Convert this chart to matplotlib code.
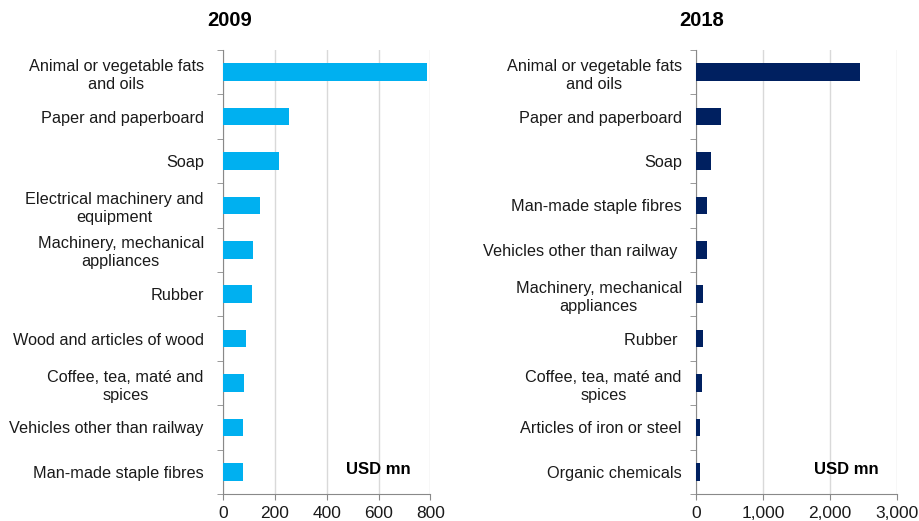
import matplotlib.pyplot as plt
import matplotlib.ticker as mticker
import numpy as np

plt.rcParams['font.family'] = ['Liberation Sans', 'DejaVu Sans']

cats_2009 = ['Animal or vegetable fats\nand oils', 'Paper and paperboard', 'Soap',
             'Electrical machinery and\nequipment', 'Machinery, mechanical\nappliances',
             'Rubber', 'Wood and articles of wood', 'Coffee, tea, maté and\nspices',
             'Vehicles other than railway', 'Man-made staple fibres']
vals_2009 = [786, 255, 216, 142, 113, 110, 88, 81, 77, 75]

cats_2018 = ['Animal or vegetable fats\nand oils', 'Paper and paperboard', 'Soap',
             'Man-made staple fibres', 'Vehicles other than railway ',
             'Machinery, mechanical\nappliances', 'Rubber ', 'Coffee, tea, maté and\nspices',
             'Articles of iron or steel', 'Organic chemicals']
vals_2018 = [2440, 372, 223, 168, 162, 113, 110, 98, 69, 69]

W, H = 919, 521
fig = plt.figure(figsize=(W / 100, H / 100), dpi=100)

grid_col = '#D9D9D9'
spine_col = '#898989'


def panel(left, right, cats, vals, color, xmax, step, fmt, pad, title, title_x):
    ax = fig.add_axes([left / W, 1 - 494 / H, (right - left) / W, (494 - 50) / H])
    y = np.arange(len(cats))
    ax.barh(y, vals, height=0.4, color=color, zorder=3)
    ax.set_ylim(len(cats) - 0.5, -0.5)
    ax.set_xlim(0, xmax)
    ax.set_yticks(y)
    ax.set_yticklabels(cats, fontsize=11.7, color='#1a1a1a', linespacing=1.25)
    for t in ax.get_yticklabels():
        t.set_multialignment('center')
    ax.set_yticks(np.arange(-0.5, len(cats), 1), minor=True)
    ax.tick_params(axis='y', which='major', length=0, pad=pad)
    ax.tick_params(axis='y', which='minor', length=4, color=spine_col)
    ax.set_xticks(np.arange(0, xmax + 1, step))
    ax.xaxis.set_major_formatter(mticker.FuncFormatter(fmt))
    ax.tick_params(axis='x', length=4, color=spine_col, labelsize=12.5, pad=5,
                   labelcolor='#1a1a1a')
    ax.grid(axis='x', color=grid_col, linewidth=1, zorder=0)
    for s in ['top', 'right']:
        ax.spines[s].set_visible(False)
    for s in ['left', 'bottom']:
        ax.spines[s].set_color(spine_col)
    ax.text(0.905, 0.055, 'USD mn', transform=ax.transAxes, ha='right', va='center',
            fontsize=12, fontweight='bold')
    fig.text(title_x / W, 1 - 20 / H, title, ha='center', va='center',
             fontsize=14.5, fontweight='bold')
    return ax


panel(223.3, 430.3, cats_2009, vals_2009, '#00B0F0', 800, 200,
      lambda v, p: f'{v:.0f}', 14, '2009', 230)
panel(695.7, 897.3, cats_2018, vals_2018, '#002060', 3000, 1000,
      lambda v, p: f'{v:,.0f}', 10, '2018', 702)

fig.savefig('out.png', dpi=100)
